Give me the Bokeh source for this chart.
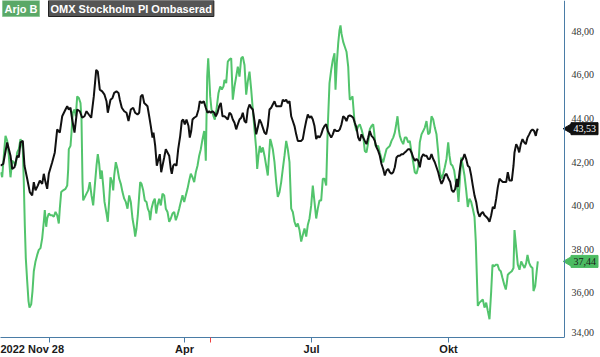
from math import pi
from bokeh.plotting import figure
from bokeh.models import Range1d, LinearAxis, FixedTicker, Label, Span
from bokeh.embed import file_html
from bokeh.resources import INLINE

# time axis position (t) and price
arjo_b = [
    (0, 41.53), (1.7, 41.30), (3.3, 42.29), (5, 43.20), (6.7, 42.97), (8.3, 42.29), (10, 41.30),
    (11.7, 42.06), (13.3, 41.99), (15, 41.83), (16.7, 42.44), (18.3, 42.59), (20, 43.05), (21, 42.90),
    (22.3, 42.59), (23.3, 41.08), (24.3, 39.11), (25.3, 37.59), (26.7, 36.53), (28, 35.62), (29, 35.32),
    (30.7, 35.47), (32, 36.08), (33.3, 36.99), (35, 37.44), (36.7, 37.74), (38.3, 37.97), (40, 38.05),
    (41.7, 38.50), (43.3, 39.26), (44.3, 39.79), (45.7, 39.03), (46.7, 39.41), (48.3, 39.64), (50, 39.56),
    (51.7, 39.56), (53.3, 39.49), (55, 39.71), (56.7, 39.56), (58.3, 39.18), (59.3, 39.86), (60.7, 40.62),
    (62.7, 40.70), (65, 40.77), (66.7, 40.92), (67.7, 41.68), (68.3, 42.59), (70, 42.74), (71, 43.35),
    (72.3, 44.26), (74, 44.41), (75.3, 44.10), (76.7, 45.01), (78.3, 44.94), (80, 44.71), (81, 43.95),
    (82, 41.08), (82.7, 40.24), (84.3, 40.39), (86, 40.55), (87.7, 40.70), (89.3, 41.08), (91, 40.47),
    (92.7, 40.01), (94.3, 40.92), (96, 41.83), (97.3, 42.36), (98.7, 41.91), (100, 41.23), (101.3, 41.61),
    (102.7, 40.92), (104, 40.17), (106, 39.64), (107.3, 39.26), (108.7, 40.24), (110, 41.30), (111.7, 41.08),
    (112.7, 40.70), (113.7, 41.38), (115.3, 41.99), (117, 41.68), (118.7, 41.23), (120.3, 41.00),
    (122, 40.62), (123.7, 40.32), (125.3, 40.17), (127, 39.86), (128.7, 40.47), (130.3, 40.17), (132, 39.41),
    (133.7, 38.95), (134.7, 38.58), (136, 38.95), (137.3, 39.56), (138.7, 40.47), (139.7, 41.08), (141, 41.00),
    (142.7, 40.70), (144.3, 40.24), (146, 40.17), (147.3, 39.86), (148.7, 39.71), (149.7, 39.33), (151, 39.86),
    (152.7, 40.17), (154.3, 40.32), (155.7, 39.64), (157, 40.01), (158.7, 40.32), (160.3, 40.01), (162, 40.55),
    (163.7, 40.47), (165.3, 39.86), (167, 39.71), (168.7, 39.26), (170.3, 39.41), (172, 39.64), (173.7, 39.71),
    (175.3, 39.33), (177, 39.56), (178.7, 39.86), (180.3, 40.17), (182, 40.47), (183.7, 40.17), (185.3, 40.47),
    (187, 40.77), (188.7, 41.15), (190.3, 41.46), (192, 41.30), (193.7, 41.08), (195.3, 41.53), (197, 41.83),
    (198.7, 42.29), (200.3, 42.59), (202, 43.05), (203.7, 43.42), (204.7, 42.74), (205.3, 42.06), (206.7, 45.92),
    (207.7, 46.76), (208.7, 45.92), (209.7, 45.01), (211, 44.41), (212, 44.26), (213, 44.10), (214.3, 43.95),
    (216, 44.41), (218, 45.17), (219.7, 45.47), (221.3, 45.32), (223, 45.47), (224, 45.77), (225.7, 45.62),
    (227.3, 46.61), (229, 46.71), (230.7, 46.76), (232.3, 44.86), (234, 45.47), (235.7, 45.92), (237.3, 46.38),
    (239, 45.92), (240.7, 46.76), (242.3, 46.83), (244, 46.45), (245.7, 45.09), (247.3, 45.70), (249, 46.15),
    (250.7, 45.32), (252.3, 44.41), (254, 43.50), (255.7, 42.59), (256.7, 41.68), (258, 42.29), (259.3, 42.74),
    (260.7, 42.44), (262.3, 42.67), (264, 42.29), (265.7, 41.83), (267.3, 41.38), (268.3, 42.14), (269.7, 43.05),
    (270.7, 42.90), (272.3, 42.59), (274, 41.99), (275.7, 41.08), (277.3, 40.40), (279, 40.62), (280.7, 41.08),
    (282.3, 41.68), (284, 42.29), (285.7, 42.97), (287.3, 42.59), (289, 41.99), (290.7, 39.86), (292.3, 39.71),
    (294, 39.26), (295.7, 39.03), (297.3, 39.18), (299, 38.88), (300.7, 38.35), (302.3, 38.65), (304, 38.95),
    (305.7, 38.58), (307.3, 39.11), (309, 39.41), (310.7, 40.01), (312.3, 40.92), (314, 40.17), (315.7, 39.41),
    (317.3, 39.86), (319, 40.24), (320.7, 40.24), (322.3, 41.23), (324, 41.23), (325.7, 40.92), (327.3, 43.65),
    (329, 45.62), (330.7, 46.23), (332.3, 46.68), (334, 46.99), (335, 45.32), (336.3, 46.53), (337.7, 47.44),
    (339, 48.05), (340, 48.27), (341, 47.89), (342.7, 47.51), (344.3, 47.29), (346, 47.06), (347.7, 46.38),
    (348.7, 45.32), (349.3, 44.86), (351, 44.94), (352, 45.01), (353.3, 44.26), (354.3, 43.73), (356, 43.42),
    (357.7, 43.65), (359.3, 43.73), (361, 43.50), (362.7, 43.20), (364.3, 42.51), (366, 42.44), (367.7, 42.90),
    (369.3, 43.50), (371, 43.65), (372.7, 43.73), (373.7, 43.35), (375, 42.74), (377.7, 42.74), (379.3, 42.44),
    (381, 42.14), (382.7, 41.99), (384.3, 42.29), (386, 42.59), (387.7, 42.67), (389.3, 42.74), (391, 42.97),
    (392.7, 43.12), (394.3, 43.35), (396, 43.80), (397, 44.10), (398.3, 43.50), (399.3, 43.20), (401, 42.97),
    (402.7, 42.82), (404.3, 43.12), (406, 43.12), (407.7, 42.90), (409.3, 42.97), (411, 42.44), (412.7, 41.99),
    (414.3, 41.53), (416, 41.46), (417.7, 41.76), (419.3, 42.90), (421, 43.27), (422.7, 43.42), (424.3, 43.58),
    (426, 43.88), (427.7, 43.27), (429.3, 43.35), (431, 44.10), (432.7, 43.95), (434.3, 43.58), (436, 43.27),
    (437.7, 42.44), (439.3, 41.53), (441, 41.23), (442.7, 41.46), (444.3, 41.76), (446, 42.14), (447.7, 42.90),
    (449, 42.29), (450.3, 41.91), (452, 41.83), (453.7, 41.61), (455.3, 41.08), (457, 40.70), (458, 40.17),
    (459, 40.92), (460.7, 42.21), (462.3, 41.83), (464, 41.38), (465.7, 40.70), (467.3, 39.94), (469, 40.32),
    (470.7, 40.17), (472.3, 39.86), (474, 39.49), (475.3, 38.35), (476.3, 36.83), (477.3, 35.40), (479, 35.55),
    (480.7, 35.62), (482.3, 35.70), (484, 35.32), (485.7, 35.55), (487.3, 35.17), (489, 34.79), (490.7, 36.08),
    (492, 37.29), (493.7, 37.21), (495.3, 37.29), (497, 37.29), (498.7, 37.06), (500.3, 36.99), (502, 36.68),
    (503.7, 36.38), (505.3, 36.15), (506.3, 36.45), (507.3, 36.83), (509, 36.91), (511.3, 36.99), (513, 37.14),
    (514, 38.88), (515.7, 38.05), (517.3, 37.29), (519, 37.06), (520.7, 37.44), (522.3, 37.29), (524, 37.14),
    (525.7, 37.36), (527, 37.74), (528.7, 37.36), (530.3, 37.21), (532, 37.14), (533, 36.08), (534.7, 36.30),
    (536.3, 37.03), (537.3, 37.44),
]

omx_pi = [
    (0, 41.83), (2.7, 41.91), (6.7, 42.90), (10, 42.29), (11.7, 41.68), (14, 41.76), (16.7, 42.29),
    (18.3, 42.21), (20, 42.90), (22.3, 42.97), (24, 41.83), (26.7, 41.23), (29.3, 40.62), (31.7, 40.47),
    (33.3, 41.08), (35, 40.70), (37.3, 40.92), (39.3, 41.15), (41.7, 41.00), (43.3, 41.46), (45, 41.08),
    (46.7, 40.77), (48.3, 41.46), (51.7, 41.99), (54.3, 42.44), (56.7, 43.50), (59.3, 43.35), (61.7, 44.10),
    (65, 44.41), (66.7, 44.56), (68.3, 44.41), (70, 44.49), (71.7, 43.95), (74, 43.35), (76.7, 44.41),
    (79.3, 44.33), (81.7, 44.03), (84, 44.10), (86, 44.33), (88.3, 44.18), (90.7, 44.03), (93.3, 45.01),
    (95.7, 46.23), (97.3, 46.15), (99.3, 45.32), (101.7, 45.24), (104, 45.09), (106, 44.79), (107.3, 44.26),
    (110, 44.86), (112, 44.94), (113.7, 45.17), (116, 45.24), (118, 45.17), (119.3, 44.86), (121.3, 44.49),
    (123.7, 44.33), (126, 44.26), (128, 43.88), (130.3, 44.41), (132.7, 44.49), (134.7, 44.26), (137, 44.18),
    (138.7, 44.26), (140.3, 45.01), (142, 45.09), (143.7, 44.71), (145.3, 44.64), (147, 44.56), (148.7, 44.10),
    (150.3, 43.65), (152, 43.12), (153, 43.35), (154.7, 42.74), (156.3, 41.83), (158, 42.14), (159.3, 42.36),
    (160.7, 41.53), (162, 41.83), (163.7, 42.21), (165.3, 42.59), (167, 42.44), (168.7, 42.29), (170.3, 41.68),
    (171.3, 41.46), (172.7, 41.83), (174, 41.91), (176, 41.83), (177.7, 42.59), (179.7, 43.20), (181.3, 43.88),
    (182.7, 43.95), (184.3, 43.73), (186, 43.95), (188, 43.65), (189.3, 43.12), (190.7, 43.42), (192, 43.95),
    (193.7, 44.03), (196, 44.10), (198, 44.41), (199.3, 44.79), (201.3, 44.71), (203.3, 44.79), (205.3, 44.49),
    (207, 44.26), (208.7, 44.33), (210.3, 44.26), (212, 44.33), (213.7, 44.26), (215.3, 44.10), (217, 44.26),
    (218.7, 44.56), (220.3, 44.71), (222, 44.10), (224, 44.10), (225.7, 44.03), (227.3, 43.95), (229, 44.26),
    (230.7, 44.18), (232.3, 43.95), (234, 43.80), (235.7, 43.50), (237.3, 43.73), (239, 43.95), (240.7, 44.03),
    (242.3, 44.26), (244, 43.88), (245.7, 43.80), (247.3, 44.41), (249, 44.64), (250.7, 44.49), (252.3, 44.41),
    (254, 43.88), (255.7, 43.27), (257.3, 43.58), (259, 43.95), (260.7, 43.80), (262.3, 43.58), (264, 43.35),
    (265.7, 43.27), (267.3, 43.65), (269, 44.41), (270.7, 44.49), (272.3, 44.64), (274, 44.79), (275.7, 44.56),
    (277.3, 44.56), (279, 44.56), (280.7, 44.56), (282.3, 44.86), (284, 44.79), (285.7, 44.86), (287.3, 44.71),
    (289, 44.79), (290.7, 44.10), (292.3, 43.88), (294, 43.65), (295.7, 43.27), (297.3, 42.97), (299, 42.97),
    (300.7, 42.97), (302.3, 43.05), (304, 43.50), (305.7, 43.88), (307.3, 44.18), (309, 44.03), (310.7, 44.10),
    (312.3, 43.95), (314, 43.65), (315.7, 43.05), (317.3, 43.20), (319, 43.12), (320.7, 43.27), (322.3, 43.50),
    (324, 43.65), (325.7, 43.73), (327.3, 43.42), (329, 43.27), (330.7, 43.12), (332.3, 43.27), (334, 43.50),
    (335.7, 43.42), (337.7, 43.42), (339.3, 43.50), (341, 43.73), (342.7, 44.10), (344.3, 44.03), (346, 43.88),
    (347.7, 44.10), (349.3, 44.14), (351, 44.10), (352.7, 44.03), (354.3, 43.80), (356, 43.58), (357.7, 43.12),
    (359.3, 42.97), (361, 43.27), (362.7, 43.12), (364.3, 42.97), (366, 42.82), (367.7, 43.12), (369.3, 43.42),
    (371, 43.20), (372.7, 43.12), (374.3, 42.97), (376, 42.67), (377.7, 42.51), (379.3, 42.29), (381, 41.91),
    (382.7, 41.68), (384.3, 41.38), (386, 41.61), (387.7, 41.68), (389.3, 41.53), (391, 41.46), (392.7, 41.53),
    (394.3, 41.76), (396, 42.21), (397.7, 42.29), (399.3, 42.29), (401, 42.36), (402.7, 42.36), (404.3, 42.44),
    (406, 42.51), (407.7, 42.59), (409.3, 42.59), (411, 42.44), (412.7, 42.21), (414.3, 42.06), (416, 42.14),
    (417.7, 42.06), (419.3, 41.76), (421, 42.21), (422.7, 42.36), (424.3, 42.29), (426, 42.29), (427.7, 42.14),
    (429.3, 42.14), (431, 42.36), (432.7, 42.14), (434.3, 41.99), (436, 41.76), (437.7, 41.53), (439.3, 41.23),
    (441, 41.00), (442.7, 41.15), (444.3, 41.38), (446, 41.46), (448, 41.23), (449.7, 41.08), (451.3, 40.70),
    (453, 40.62), (454.7, 40.77), (456.3, 41.23), (457.3, 40.85), (459, 41.53), (460.7, 42.06), (462.3, 42.14),
    (464, 42.36), (465.7, 42.14), (467.3, 41.83), (469, 41.76), (470.7, 41.38), (472.3, 40.92), (474, 40.47),
    (475.7, 40.17), (477.3, 39.71), (479, 39.49), (480.7, 39.64), (482.3, 39.71), (484, 39.56), (485.7, 39.49),
    (487.3, 39.41), (489, 39.26), (490.7, 39.56), (492.3, 39.94), (494, 39.86), (495.7, 40.32), (497.3, 40.85),
    (499, 41.23), (500.7, 41.15), (502.3, 41.08), (504, 41.08), (505.7, 41.08), (507.3, 41.53), (509, 41.15),
    (511.3, 41.15), (513, 41.83), (514, 42.44), (515.7, 42.82), (517.3, 42.67), (518.7, 42.44), (520.3, 42.82),
    (522, 43.05), (523.7, 42.90), (525.3, 42.82), (527, 43.12), (528.7, 43.27), (530.3, 43.42), (532, 43.50),
    (533.7, 43.42), (535.3, 43.20), (536.3, 43.42), (537.3, 43.53),
]

x_ticks = [49, 184, 311, 448]
x_tick_labels = ["2022 Nov 28", "Apr", "Jul", "Okt"]
marker_tick = [210]
y_ticks = [34, 36, 38, 40, 42, 44, 46, 48]
series_names = ["Arjo B", "OMX Stockholm PI Ombaserad"]
last_values = [37.44, 43.53]

GREEN = "#52c46c"
BADGE_GREEN = "#4cbb62"
BLACK = "#111111"
AXIS = "#4a7ca6"
FONT = "Liberation Sans"
AXIS_T = 564          # where the price scale sits on the time axis
NBSP = "\u00a0"

p = figure(width=600, height=357, output_backend="svg", toolbar_location=None,
           x_range=Range1d(0, 600), y_range=Range1d(33.95, 49.41),
           x_axis_location=None, y_axis_location=None,
           min_border_left=0, min_border_top=0, min_border_right=0, min_border_bottom=0)
p.outline_line_color = None
p.grid.visible = False
p.background_fill_color = "white"
p.border_fill_color = "white"

gt, gv = zip(*arjo_b)
bt, bv = zip(*omx_pi)
p.line(list(gt), list(gv), line_color=GREEN, line_width=2)
p.line(list(bt), list(bv), line_color=BLACK, line_width=2)

overrides = {t: s for t, s in zip(x_ticks, x_tick_labels)}
overrides[x_ticks[0]] = x_tick_labels[0] + NBSP * 12
xaxis = LinearAxis(ticker=FixedTicker(ticks=x_ticks, minor_ticks=marker_tick),
                   major_label_overrides=overrides, bounds=(0, AXIS_T))
xaxis.axis_line_color = AXIS
xaxis.major_tick_line_color = AXIS
xaxis.major_tick_out = 5
xaxis.major_tick_in = 0
xaxis.minor_tick_line_color = "#f04040"
xaxis.minor_tick_out = 5
xaxis.minor_tick_in = 0
xaxis.major_label_standoff = 0
xaxis.major_label_text_font = FONT
xaxis.major_label_text_font_style = "bold"
xaxis.major_label_text_font_size = "11px"
xaxis.major_label_text_color = "#1a1a1a"
p.add_layout(xaxis, "below")

# price scale on the right
p.add_layout(Span(location=AXIS_T, dimension="height", line_color=AXIS, line_width=1))
y_labels = [f"{t:.2f}".replace(".", ",") for t in y_ticks]
p.text(x=[AXIS_T] * (len(y_ticks) - 1), y=y_ticks[1:], text=y_labels[1:], x_offset=7,
       text_align="left", text_baseline="middle", text_font=FONT,
       text_font_size="10px", text_color="#333333")
p.text(x=[AXIS_T], y=y_ticks[:1], text=y_labels[:1], x_offset=7,
       text_align="left", text_baseline="bottom", text_font=FONT,
       text_font_size="10px", text_color="#333333")

# last value badges
badge_fill = [BADGE_GREEN, BLACK]
badge_text = ["#1a1a1a", "white"]
p.scatter(x=[AXIS_T + 5] * 2, y=last_values, marker="triangle", angle=pi / 2, size=11,
          fill_color=badge_fill, line_color=badge_fill)
p.rect(x=[AXIS_T + 20] * 2, y=last_values, width=27, height=12,
       width_units="screen", height_units="screen", fill_color=badge_fill, line_color=badge_fill)
p.text(x=[AXIS_T] * 2, y=last_values, text=[f"{v:.2f}".replace(".", ",") for v in last_values],
       x_offset=9, text_align="left", text_baseline="middle", text_font=FONT,
       text_font_size="10px", text_color=badge_text)

# legend boxes
p.add_layout(Label(x=2, y=49.41, x_units="screen", text=series_names[0], text_baseline="top",
                   text_font=FONT, text_font_style="bold", text_font_size="11px", text_color="white",
                   background_fill_color="#5aa867", border_line_color="#8cc896", padding=2))
p.add_layout(Label(x=48, y=49.41, x_units="screen", text=series_names[1], text_baseline="top",
                   text_font=FONT, text_font_style="bold", text_font_size="11px", text_color="white",
                   background_fill_color="#555555", border_line_color="#222222", padding=2))

open("out.html", "w").write(file_html(p, INLINE))
